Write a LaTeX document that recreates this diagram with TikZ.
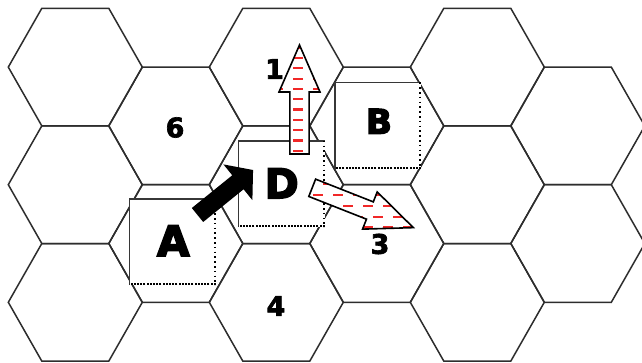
\documentclass[tikz,border=0pt]{standalone}
\usepackage{fontspec}
\setmainfont{DejaVu Sans}
\newfontfamily\heavyfont[FakeBold=4]{DejaVu Sans Bold}
\newfontfamily\heavydigits[FakeBold=2.5]{DejaVu Sans Bold}
\definecolor{hexgray}{RGB}{45,45,45}
\definecolor{boxgray}{RGB}{55,55,55}
\definecolor{dashred}{RGB}{240,40,40}
\tikzset{
  hexline/.style={draw=hexgray, line width=1.5pt, line join=miter},
  countbox/.style={fill=white, minimum width=86pt, minimum height=86pt, inner sep=0pt},
  boxedge/.style={draw=boxgray, line width=1.4pt},
  boxdotsr/.style={draw=black, line width=1.6pt, dash pattern=on 1.6pt off 3.2pt},
  boxdotsb/.style={draw=black, line width=1.6pt, dash pattern=on 2pt off 1.2pt},
  bigletter/.style={inner sep=0pt},
  numlabel/.style={font=\heavydigits\fontsize{27}{27}\selectfont, inner sep=0pt},
  reddash/.style={draw=dashred, line width=2.2pt, dash pattern=on 9.5pt off 10.5pt},
  arrowoutline/.style={draw=black, line width=1.6pt, line join=miter},
}
% block arrow corner coordinates: name, tail centre, angle, length, shaft half width, head length, head half width
\newcommand\defarrow[7]{%
  \begin{scope}[shift={#2}, rotate=#3]
    \pgfmathsetmacro\hb{#4-#6}
    \coordinate (#1-1) at (0,-#5);
    \coordinate (#1-2) at (\hb,-#5);
    \coordinate (#1-3) at (\hb,-#7);
    \coordinate (#1-4) at (#4,0);
    \coordinate (#1-5) at (\hb,#7);
    \coordinate (#1-6) at (\hb,#5);
    \coordinate (#1-7) at (0,#5);
  \end{scope}}
\newcommand\arrowshape[2]{\path[#2] (#1-1) -- (#1-2) -- (#1-3) -- (#1-4) -- (#1-5) -- (#1-6) -- (#1-7) -- cycle;}
\newcommand\arrowclip[1]{\clip (#1-1) -- (#1-2) -- (#1-3) -- (#1-4) -- (#1-5) -- (#1-6) -- (#1-7) -- cycle;}
\begin{document}
\begin{tikzpicture}[x=1pt,y=-1pt]
\useasboundingbox (0,0) rectangle (642,362);
\fill[white] (0,0) rectangle (642,362);
% hex grid
\begin{scope}
  \clip (0,0) rectangle (642,362);
  \foreach \cx/\cy in {75.3/67.1, 75.3/184.7, 75.3/302.3,
                       175.8/125.9, 175.8/243.5,
                       276.3/67.1, 276.3/184.7, 276.3/302.3,
                       376.8/125.9, 376.8/243.5,
                       477.3/67.1, 477.3/184.7, 477.3/302.3,
                       577.8/125.9, 577.8/243.5}
    \draw[hexline] (\cx,\cy) ++(-67,0) -- ++(33.5,-58.8) -- ++(67,0) -- ++(33.5,58.8)
                   -- ++(-33.5,58.8) -- ++(-67,0) -- cycle;
\end{scope}
% counters
\node[countbox] (boxA) at (172.5,242) {};
\node[countbox] (boxB) at (378,125.5) {};
\node[countbox] (boxD) at (281.5,184) {};
\foreach \b in {boxA,boxB,boxD} {
  \draw[boxedge] (\b.south west) -- (\b.north west) -- (\b.north east);
  \draw[boxdotsr] ([xshift=-1pt]\b.north east) -- ([xshift=-1pt]\b.south east);
  \draw[boxdotsb] ([yshift=1pt]\b.south east) -- ([yshift=1pt]\b.south west);
}
\node[bigletter, font=\heavyfont\fontsize{42}{42}\selectfont] (labA) at (173.3,240.7) {A};
\node[bigletter, font=\heavyfont\fontsize{34}{34}\selectfont] (labB) at (379,121.3) {B};
\node[bigletter, font=\heavyfont\fontsize{41}{41}\selectfont] (labD) at (281.7,183.3) {D};
% hex numbers
\node[numlabel] (n1) at (274.5,69) {1};
\node[numlabel] (n6) at (175,127.5) {6};
\node[numlabel] (n3) at (380,244) {3};
\node[numlabel] (n4) at (276,306) {4};
% black move arrow A -> D
\defarrow{mv}{(197.5,215)}{39}{71.5}{9}{19.5}{23}
\arrowshape{mv}{fill=black}
% hollow arrow up (1)
\defarrow{up}{(299.5,154)}{90}{109}{9.6}{47}{20.5}
\arrowshape{up}{fill=white}
\begin{scope}
  \arrowclip{up}
  \foreach \k in {0,...,12}
    \draw[reddash] (253,{37.4+10.3*\k}) -- (345,{37.4+10.3*\k});
\end{scope}
\arrowshape{up}{arrowoutline}
% hollow arrow down-right (3)
\defarrow{dr}{(312.2,187.8)}{-21.5}{108.7}{9.3}{46.7}{20}
\arrowshape{dr}{fill=white}
\begin{scope}
  \arrowclip{dr}
  \foreach \k in {-1,...,5} {
    \pgfmathsetmacro\yy{184.3+10.8*\k}
    \pgfmathsetmacro\xs{283+10*mod(\k+2,2)}
    \draw[reddash] (\xs,\yy) -- (440,\yy);
  }
\end{scope}
\arrowshape{dr}{arrowoutline}
\end{tikzpicture}
\end{document}
